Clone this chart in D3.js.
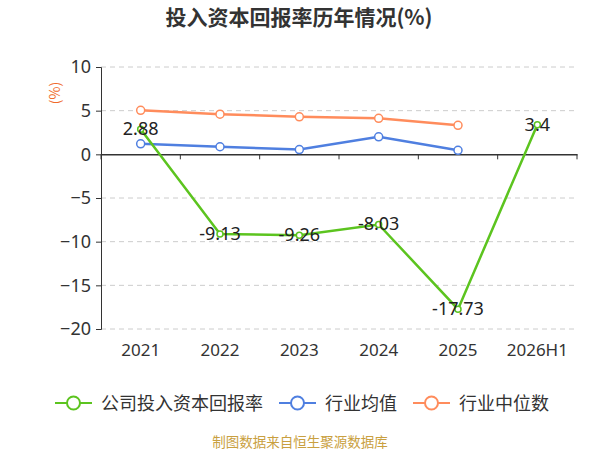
<!DOCTYPE html>
<html><head><meta charset="utf-8">
<script src="https://cdn.jsdelivr.net/npm/d3@7/dist/d3.min.js"></script>
<style>body{margin:0;background:#fff;}svg{display:block;font-family:"Noto Sans CJK SC","Noto Sans",sans-serif;}</style>
</head><body>
<svg id="c" width="600" height="450"></svg>
<script>
const categories = ["2021","2022","2023","2024","2025","2026H1"];
const companyValues = [2.88,-9.13,-9.26,-8.03,-17.73,3.4];
const industryAvg = [1.2,0.87,0.55,2.0,0.46];
const industryMedian = [5.04,4.6,4.3,4.12,3.32];
const yTicks = [10,5,0,-5,-10,-15,-20];
const seriesNames = ["公司投入资本回报率","行业均值","行业中位数"];
const colors = ["#5cc41f","#4f7fe0","#ff8c5c"];

const svg = d3.select("#c");
const x = d3.scaleBand().domain(categories).range([101,577]);
const y = d3.scaleLinear().domain([-20,10]).range([329,67]);
const cx = d => x(d) + x.bandwidth()/2;
const numFont = "\"Noto Sans\",sans-serif";

svg.append("text").attr("x",299).attr("y",25).attr("text-anchor","middle")
  .attr("font-size",21).attr("font-weight","bold").attr("fill","#333").text("投入资本回报率历年情况(%)");

// grid
svg.append("g").selectAll("line").data(yTicks.filter(t=>t!==0)).join("line")
  .attr("x1",101).attr("x2",577).attr("y1",d=>y(d)).attr("y2",d=>y(d))
  .attr("stroke","#ccc").attr("stroke-dasharray","5,4");

// y axis
const ya = svg.append("g").attr("transform","translate(101,0)")
  .call(d3.axisLeft(y).tickValues(yTicks).tickSize(5).tickPadding(5));
ya.select(".domain").attr("stroke","#333");
ya.selectAll(".tick line").attr("stroke","#333");
ya.selectAll("text").attr("font-size",18).attr("fill","#333").attr("font-family",numFont);

// x axis at 0
const xa = svg.append("g").attr("transform",`translate(0,${y(0)})`)
  .call(d3.axisBottom(x).tickSize(0).tickFormat(""));
xa.select(".domain").attr("stroke","#333").attr("stroke-width",1.5);
svg.append("g").selectAll("line").data(d3.range(categories.length+1)).join("line")
  .attr("x1",i=>101+i*x.bandwidth()).attr("x2",i=>101+i*x.bandwidth())
  .attr("y1",y(0)).attr("y2",y(0)+5).attr("stroke","#333");
svg.append("g").selectAll("text").data(categories).join("text")
  .attr("x",d=>cx(d)).attr("y",356).attr("text-anchor","middle")
  .attr("font-size",17).attr("fill","#333").attr("font-family",numFont).text(d=>d);

svg.append("text").attr("transform","translate(60,93) rotate(-90)").attr("text-anchor","middle")
  .attr("font-size",14).attr("fill","#f06a2a").text("(%)");

function drawSeries(vals, color, r, width){
  const pts = vals.map((v,i)=>[cx(categories[i]), y(v)]);
  svg.append("path").attr("d",d3.line()(pts)).attr("fill","none").attr("stroke",color).attr("stroke-width",width);
  svg.append("g").selectAll("circle").data(pts).join("circle")
    .attr("cx",d=>d[0]).attr("cy",d=>d[1]).attr("r",r)
    .attr("fill","#fff").attr("stroke",color).attr("stroke-width",1.5);
}
drawSeries(industryMedian, colors[2], 4, 2.5);
drawSeries(industryAvg, colors[1], 4, 2.5);
drawSeries(companyValues, colors[0], 3, 2.5);

svg.append("g").selectAll("text").data(companyValues).join("text")
  .attr("x",(d,i)=>cx(categories[i])).attr("y",d=>y(d)+6).attr("text-anchor","middle")
  .attr("font-size",18).attr("fill","#222").attr("font-family",numFont).text(d=>d);

// legend
const legX = [55,279,413];
seriesNames.forEach((n,i)=>{
  const g = svg.append("g").attr("transform",`translate(${legX[i]},403)`);
  g.append("line").attr("x1",0).attr("x2",37).attr("stroke",colors[i]).attr("stroke-width",2);
  g.append("circle").attr("cx",18.5).attr("r",6.5).attr("fill","#fff").attr("stroke",colors[i]).attr("stroke-width",2);
  g.append("text").attr("x",46).attr("y",6.5).attr("font-size",18).attr("fill","#333").text(n);
});

svg.append("text").attr("x",300).attr("y",447).attr("text-anchor","middle")
  .attr("font-size",13.5).attr("fill","#c9a040").text("制图数据来自恒生聚源数据库");
</script>
</body></html>
